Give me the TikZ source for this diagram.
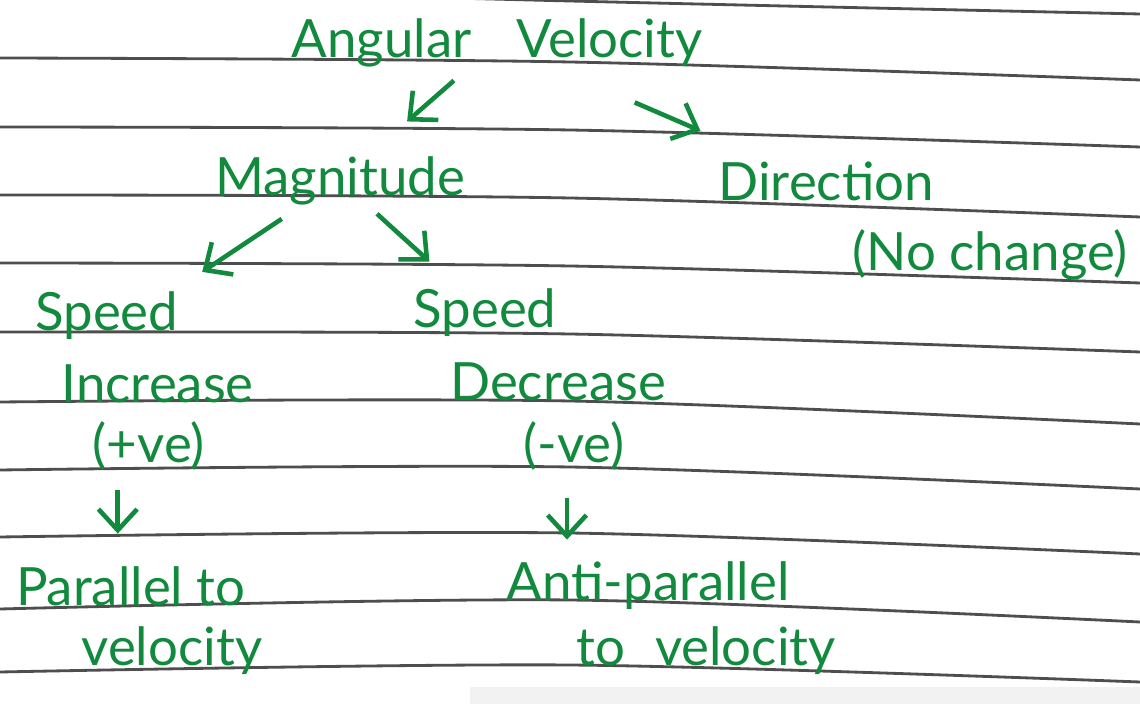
\documentclass[tikz,border=0pt]{standalone}
\usepackage{fontspec}
\setmainfont{Lato}
\usepackage{xcolor}
\usepackage{tikz}
\usetikzlibrary{arrows.meta,positioning}
\definecolor{ink}{RGB}{18,138,62}
\definecolor{ruleline}{RGB}{78,78,78}

\begin{document}
\begin{tikzpicture}[
    x=0.01cm, y=-0.01cm,
    on grid,
    hand/.style={text=ink, font=\fontsize{15}{18}\selectfont, inner sep=0pt, text height=0.42cm, text depth=0.12cm},
    arrow/.style={-{Straight Barb[length=6pt,width=11pt]}, ink, line width=1.3pt},
    ruling/.style={ruleline, line width=0.8pt}
]
\useasboundingbox[fill=white] (0,0) rectangle (1140,704);
\fill[black!5] (470,687) rectangle (1140,704);
\foreach \yl/\ym/\yr in {-14/1/14, 58/62/80, 127/130/147, 195/198/217, 263/266/283,
    332/334/352, 402/401/424, 470/467/489, 537/533/554, 609/600/622, 672/665/682}
  \draw[ruling] plot[smooth] coordinates {(0,\yl) (570,\ym) (1140,\yr)};

\node[hand] (title) at (497,43) {Angular\hspace{0.45cm}Velocity};
\node[hand, below left=1.37cm and 1.57cm of title] (mag) {Magnitude};
\node[hand, below right=1.42cm and 3.29cm of title] (dir) {Direction};
\node[hand, below right=0.70cm and 1.64cm of dir] (nochange) {(No change)};

\node[hand, below left=1.35cm and 2.33cm of mag] (speedup) {Speed};
\node[hand, below right=0.72cm and 0.51cm of speedup] (incr) {Increase};
\node[hand, below left=0.60cm and 0.09cm of incr] (plusve) {(+ve)};
\node[hand, below left=1.43cm and 0.18cm of plusve] (para) {Parallel to};
\node[hand, below right=0.60cm and 0.41cm of para] (paravel) {velocity};

\node[hand, below right=1.32cm and 1.45cm of mag] (speeddown) {Speed};
\node[hand, below right=0.73cm and 0.73cm of speeddown] (decr) {Decrease};
\node[hand, below right=0.62cm and 0.16cm of decr] (minusve) {(-ve)};
\node[hand, below right=1.38cm and 0.74cm of minusve] (anti) {Anti-parallel};
\node[hand, below right=0.65cm and 0.58cm of anti] (antivel) {to\hspace{0.3cm}velocity};

\draw[arrow, shorten <=0.15cm, shorten >=0.47cm] (title) -- (mag);
\draw[arrow, shorten <=0.80cm, shorten >=0.67cm] (title) -- (dir);
\draw[arrow, shorten <=0.20cm, shorten >=0.28cm] (mag) -- (speedup.north east);
\draw[arrow, shorten <=0.09cm, shorten >=0.34cm] (mag) -- (speeddown);
\draw[arrow, shorten <=0.15cm, shorten >=0.29cm] ([xshift=-0.31cm]plusve.south) -- ([xshift=-0.31cm]plusve.south |- para.north);
\draw[arrow, shorten <=0.23cm, shorten >=0.18cm] ([xshift=-0.07cm]minusve.south) -- ([xshift=-0.07cm]minusve.south |- anti.north);
\end{tikzpicture}
\end{document}
